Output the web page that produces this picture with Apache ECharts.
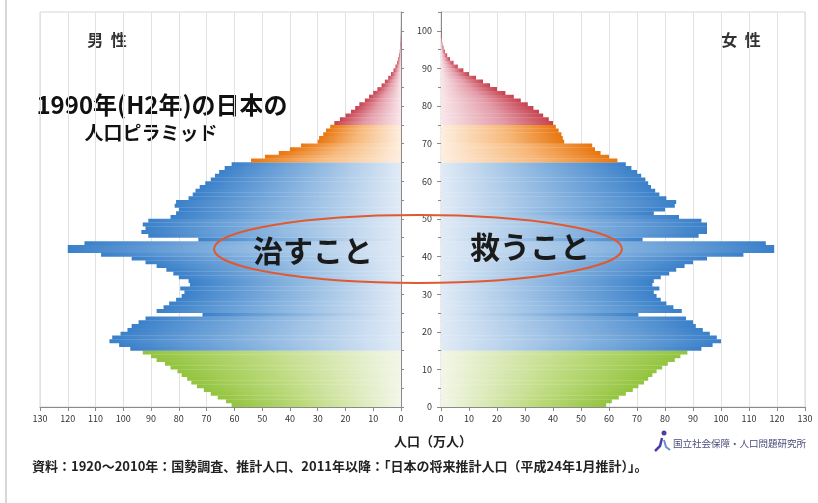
<!DOCTYPE html>
<html><head><meta charset="utf-8">
<script src="https://cdn.jsdelivr.net/npm/echarts@6/dist/echarts.min.js"></script>
<style>html,body{margin:0;padding:0;background:#fff}#c{width:818px;height:503px}</style>
</head><body><div id="c"></div>
<script>
// Ages 0..104 (category axis), population in 10,000 persons
const ages = Array.from({length:105},(_,i)=>String(i));
const xTicks = [0,10,20,30,40,50,60,70,80,90,100,110,120,130];
const yTicks = [0,10,20,30,40,50,60,70,80,90,100];
const male = [61,63,66,68.5,71,73.5,75.5,77,79,80.5,83,85,88,90,93,
 97.5,101.5,105,104,101,98.5,97,94.5,92,71.5,88,85.5,83.5,81,79,
 78,79.5,76,76.5,80,82,84.5,88,92,97,
 108,120,120,114,73,91,93.5,92,93,91,
 83,81,80,81.5,81,76.5,75,74,72.5,70.5,
 68.5,67,65.5,63.5,61,
 54,49,44,40,36,30,29.5,28,27,25.5,
 24,22,20,18,16.5,15,13,11.5,10,8.5,
 7,5.8,4.6,3.6,2.7,2.0,1.4,1.0,0.7,0.45,
 0.3,0.2,0.12,0.08,0.05,0.03];
const female = [59,61,63.5,66,68.5,70.5,72.5,74,75.5,77,79,81,83.5,85.5,88,
 93,97,100,98.5,96,93.5,91,90,87.5,70.5,86,83,80.5,78.5,77,
 76,78,75.5,76,78.5,81.5,84,87,90,95,
 108,119,119,116,72,92,95,95,95,93,
 85,76,80,83.5,84,80.5,78,76.5,75,74,
 73,71.5,70,68,66,
 63,60,57,55,54,44,43.5,43,42,41,
 40,38.5,36.5,35,33,31,28.5,26,23,20,
 17.5,15,12.5,10,8,6,4.5,3.2,2.2,1.4,
 0.9,0.5,0.3,0.2,0.1,0.05];

const bandColors = {
  g:['#92c43e','#bedb80','#f3f6e8'],
  b:['#3a80c9','#82b0de','#e1ebf6'],
  o:['#e8760f','#f7b87a','#fdefe0'],
  r:['#c6434f','#e49ca9','#f9e7eb']
};
function band(i){return i<15?'g':i<65?'b':i<75?'o':'r';}
function grad(i, side){
  const c = bandColors[band(i)];
  const stops = side==='L'
    ? [{offset:0,color:c[0]},{offset:0.45,color:c[1]},{offset:1,color:c[2]}]
    : [{offset:0,color:c[2]},{offset:0.55,color:c[1]},{offset:1,color:c[0]}];
  return new echarts.graphic.LinearGradient(0,0,1,0,stops);
}
const chart = echarts.init(document.getElementById('c'), null, {renderer:'canvas'});
const FONT = '"Noto Sans CJK JP","Noto Sans",sans-serif';
const axisLbl = {fontSize:9, color:'#333', fontFamily:FONT, margin:7};
const xCommon = {type:'value', min:0, max:130, interval:10,
  axisLine:{show:true,lineStyle:{color:'#8a8a8a'}},
  axisTick:{show:true,length:4,lineStyle:{color:'#8a8a8a'}},
  axisLabel:Object.assign({formatter:v=>xTicks.includes(v)?String(v):''},axisLbl),
  splitLine:{show:true,lineStyle:{color:'#e2e2e2'}}};
const option = {
  animation:false,
  backgroundColor:'#fff',
  grid:[
    {left:40, right:417, top:12, bottom:96, show:true, borderColor:'#d6d6d6', borderWidth:1},
    {left:441, right:13, top:12, bottom:96, show:true, borderColor:'#d6d6d6', borderWidth:1}
  ],
  xAxis:[
    Object.assign({gridIndex:0, inverse:true}, xCommon),
    Object.assign({gridIndex:1}, xCommon)
  ],
  yAxis:[
    {gridIndex:0, type:'category', data:ages, position:'right',
     axisLine:{show:true,lineStyle:{color:'#8a8a8a'}},
     axisTick:{show:true,interval:4,inside:false,length:3,lineStyle:{color:'#8a8a8a'}},
     axisLabel:{show:false}, splitLine:{show:false}},
    {gridIndex:1, type:'category', data:ages, position:'left',
     axisLine:{show:true,lineStyle:{color:'#8a8a8a'}},
     axisTick:{show:true,interval:4,length:3,lineStyle:{color:'#8a8a8a'}},
     axisLabel:{show:false}, splitLine:{show:false}},
    {gridIndex:1, type:'value', min:0, max:105, interval:10, position:'left',
     axisLine:{show:false}, axisTick:{show:true,length:4,lineStyle:{color:'#8a8a8a'}},
     axisLabel:Object.assign({showMaxLabel:false, formatter:v=>yTicks.includes(v)?String(v):''},axisLbl,{margin:9}),
     splitLine:{show:false}}
  ],
  series:[
    {type:'bar', xAxisIndex:0, yAxisIndex:0, barWidth:4, silent:true,
     data: male.map((v,i)=>({value:v, itemStyle:{color:grad(i,'L')}}))},
    {type:'bar', xAxisIndex:1, yAxisIndex:1, barWidth:4, silent:true,
     data: female.map((v,i)=>({value:v, itemStyle:{color:grad(i,'R')}}))}
  ],
  graphic:[
    {type:'line', shape:{x1:6,y1:0,x2:6,y2:503}, style:{stroke:'#b0b0b0',lineWidth:1}},
    {type:'text', x:107, y:40, style:{text:'男  性', font:'bold 16px '+FONT, fill:'#333', textAlign:'center', textVerticalAlign:'middle'}},
    {type:'text', x:741, y:40, style:{text:'女  性', font:'bold 16px '+FONT, fill:'#333', textAlign:'center', textVerticalAlign:'middle'}},
    {type:'text', x:162, y:105, style:{text:'1990年(H2年)の日本の', font:'bold 24px '+FONT, fill:'#111', textAlign:'center', textVerticalAlign:'middle'}},
    {type:'text', x:151, y:133, style:{text:'人口ピラミッド', font:'bold 19px '+FONT, fill:'#111', textAlign:'center', textVerticalAlign:'middle'}},
    {type:'ellipse', shape:{cx:418,cy:249,rx:204,ry:34}, style:{fill:null, stroke:'#df5a32', lineWidth:2}, z:100},
    {type:'text', x:313, y:251, z:101, style:{text:'治すこと', font:'bold 30px '+FONT, fill:'#1a1a1a', textAlign:'center', textVerticalAlign:'middle'}},
    {type:'text', x:530, y:247, z:101, style:{text:'救うこと', font:'bold 30px '+FONT, fill:'#1a1a1a', textAlign:'center', textVerticalAlign:'middle'}},
    {type:'text', x:433, y:441, style:{text:'人口（万人）', font:'bold 13px '+FONT, fill:'#222', textAlign:'center', textVerticalAlign:'middle'}},
    {type:'circle', shape:{cx:664,cy:433,r:2.5}, style:{fill:'#4b3fa6'}},
    {type:'polyline', shape:{points:[[662,438],[660,446],[655,451]]}, style:{stroke:'#4b3fa6',lineWidth:2.5,fill:null}},
    {type:'polyline', shape:{points:[[664,440],[666,447],[670,450]]}, style:{stroke:'#6a8fd0',lineWidth:2,fill:null}},
    {type:'text', x:673, y:443, style:{text:'国立社会保障・人口問題研究所', font:'9.5px '+FONT, fill:'#4a4a7a', textAlign:'left', textVerticalAlign:'middle'}},
    {type:'text', x:32, y:466, style:{text:'資料：1920～2010年：国勢調査、推計人口、2011年以降：「日本の将来推計人口（平成24年1月推計）」。', font:'bold 13px '+FONT, fill:'#222', textAlign:'left', textVerticalAlign:'middle'}}
  ]
};
chart.setOption(option);
</script>
</body></html>
